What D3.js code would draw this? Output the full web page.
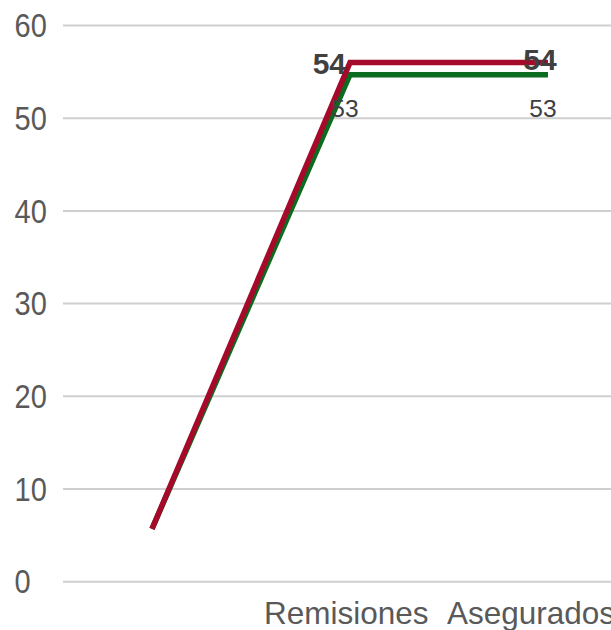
<!DOCTYPE html>
<html>
<head>
<meta charset="utf-8">
<script src="https://cdn.jsdelivr.net/npm/d3@7/dist/d3.min.js"></script>
<style>
  html, body { margin: 0; padding: 0; background: #fff; overflow: hidden; }
  svg { display: block; font-family: "Liberation Sans", Arial, sans-serif; }
</style>
</head>
<body>
<svg id="chart" width="611" height="630"></svg>
<script>
// ---- data ----
const categories = ["Inicio", "Remisiones", "Asegurados"];
const categoryLabels = ["", "Remisiones", "Asegurados"];
const seriesRed = [5.7, 56.0, 56.0];
const seriesGreen = [5.7, 54.7, 54.7];
const labelsRed = ["", "54", "54"];
const labelsGreen = ["", "53", "53"];
const yTicks = [0, 10, 20, 30, 40, 50, 60];

// ---- chart ----
const svg = d3.select("#chart");
const y = d3.scaleLinear().domain([0, 60]).range([581.7, 25.5]);
const x = d3.scalePoint().domain(categories).range([152, 548]);

// gridlines
svg.append("g").selectAll("line").data(yTicks).join("line")
  .attr("x1", 63).attr("x2", 611)
  .attr("y1", d => y(d)).attr("y2", d => y(d))
  .attr("stroke", "#cfcfcf").attr("stroke-width", 2);

// y tick labels
svg.append("g").selectAll("text").data(yTicks).join("text")
  .attr("transform", d => `translate(14.5, ${y(d)}) scale(1, 1.13)`)
  .attr("dy", "0.36em")
  .attr("text-anchor", "start")
  .attr("font-size", 29)
  .attr("fill", "#595959")
  .text(d => d);

// x labels (start-anchored, left-shifted from the category point)
svg.append("g").selectAll("text").data(categories).join("text")
  .attr("x", (d, i) => x(d) - (i === 2 ? 101 : 86))
  .attr("y", 624)
  .attr("text-anchor", "start")
  .attr("font-size", 31.5)
  .attr("fill", "#595959")
  .text((d, i) => categoryLabels[i]);

const line = d3.line().x((d, i) => x(categories[i])).y(d => y(d));

svg.append("path").datum(seriesGreen)
  .attr("d", line).attr("fill", "none")
  .attr("stroke", "#0b6b1e").attr("stroke-width", 5.5)
  .attr("stroke-linejoin", "miter");

svg.append("path").datum(seriesRed)
  .attr("d", line).attr("fill", "none")
  .attr("stroke", "#a50a2a").attr("stroke-width", 5.5)
  .attr("stroke-linejoin", "miter");

// data labels: green (regular, below)
svg.append("g").selectAll("text").data(seriesGreen).join("text")
  .attr("x", (d, i) => x(categories[i]) - 5)
  .attr("y", d => y(d) + 42)
  .attr("text-anchor", "middle")
  .attr("font-size", 24.5)
  .attr("fill", "#404040")
  .text((d, i) => labelsGreen[i]);

// data labels: red (bold)
svg.append("g").selectAll("text").data(seriesRed).join("text")
  .attr("x", (d, i) => i === 1 ? x(categories[i]) - 4 : x(categories[i]) - 8)
  .attr("y", (d, i) => i === 1 ? y(d) + 11 : y(d) + 7)
  .attr("text-anchor", (d, i) => i === 1 ? "end" : "middle")
  .attr("font-size", 30)
  .attr("font-weight", "bold")
  .attr("fill", "#404040")
  .text((d, i) => labelsRed[i]);
</script>
</body>
</html>
